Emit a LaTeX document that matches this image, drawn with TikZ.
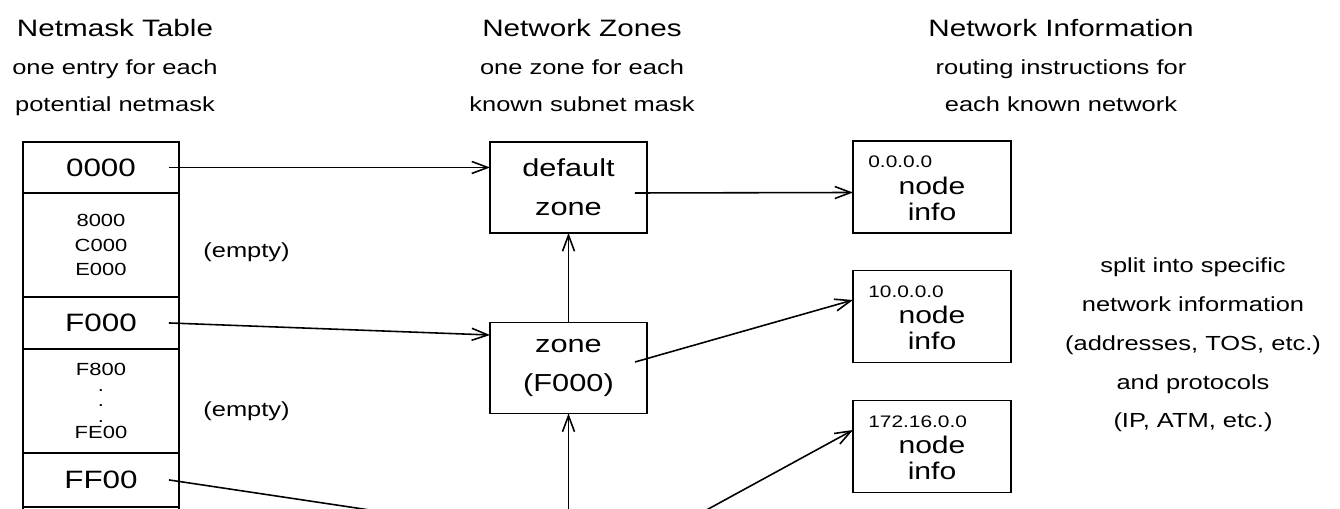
\documentclass[tikz,border=0pt]{standalone}
\usepackage{fontspec}
\setmainfont[FakeStretch=1.25]{Liberation Sans}
\usetikzlibrary{positioning,arrows.meta}

\begin{document}
\begin{tikzpicture}[x=0.02cm, y=-0.02cm,
    node distance=0pt,
    framed/.style={draw, line width=1.1pt, inner sep=0pt, outer sep=0pt},
    tblcell/.style={framed, minimum width=3.12cm, align=center},
    entry/.style={font=\fontsize{14.3}{17}\selectfont},
    entrysmall/.style={font=\fontsize{10}{14.2}\selectfont},
    zonebox/.style={framed, minimum width=3.14cm, minimum height=1.82cm, align=center, font=\fontsize{14}{22}\selectfont},
    infobox/.style={framed, minimum width=3.16cm, minimum height=1.84cm},
    iptext/.style={font=\fontsize{9.5}{11}\selectfont, inner sep=0pt},
    infotext/.style={align=center, inner sep=0pt, font=\fontsize{13.7}{14.8}\selectfont},
    hdr/.style={anchor=base, inner sep=0pt, font=\fontsize{13.5}{16}\selectfont},
    subhdr/.style={anchor=base, inner sep=0pt, font=\fontsize{11.6}{14}\selectfont},
    link/.style={-{Straight Barb[length=3.2mm,width=2.4mm]}, line width=0.9pt}]

    \useasboundingbox (0,0) rectangle (1340,509);
    \clip (0,0) rectangle (1340,509);

    % Column headings
    \node[hdr] (hTable) at (115,37) {Netmask Table};
    \node[subhdr] (hTable1) at (115,75) {one entry for each};
    \node[subhdr] (hTable2) at (115,112) {potential netmask};
    \node[hdr] (hZones) at (582,37) {Network Zones};
    \node[subhdr] (hZones1) at (582,75) {one zone for each};
    \node[subhdr] (hZones2) at (582,112) {known subnet mask};
    \node[hdr] (hInfo) at (1061,37) {Network Information};
    \node[subhdr] (hInfo1) at (1061,75) {routing instructions for};
    \node[subhdr] (hInfo2) at (1061,112) {each known network};

    % Netmask table
    \node[tblcell, entry, minimum height=1.02cm, anchor=north west] (t0000) at (23,142) {0000};
    \node[tblcell, entrysmall, minimum height=2.08cm, below=of t0000] (tMid1) {8000\\C000\\E000};
    \node[tblcell, entry, minimum height=1.04cm, below=of tMid1] (tF000) {F000};
    \node[tblcell, entrysmall, font=\fontsize{10}{9.1}\selectfont, minimum height=2.08cm, below=of tF000] (tMid2) {F800\\.\\.\\.\\FE00};
    \node[tblcell, entry, minimum height=1.08cm, below=of tMid2] (tFF00) {FF00};
    \node[tblcell, minimum height=2.08cm, below=of tFF00] (tNext) {};

    \node[subhdr, anchor=west] (empty1) at (203,252) {(empty)};
    \node[subhdr, anchor=west] (empty2) at (203,411) {(empty)};

    % Zones
    \node[zonebox] (zdefault) at (568.5,187.5) {default\\zone};
    \node[zonebox] (zF000) at (568.5,368) {zone\\(F000)};
    \coordinate (zNextIn) at (490,528);
    \coordinate (zNextUp) at (568.5,530);
    \coordinate (zNextOut) at (635,549);

    % Network information boxes
    \foreach \n/\y/\ip in {0/187/0.0.0.0, 10/316.5/10.0.0.0, 172/446.5/172.16.0.0} {
        \node[infobox] (info\n) at (932,\y) {};
        \node[iptext, anchor=west] (ip\n) at ([xshift=0.3cm,yshift=0.5cm]info\n.west) {\ip};
        \node[infotext] (it\n) at ([yshift=-0.23cm]info\n.center) {node\\info};
    }

    \node[subhdr, anchor=center, align=center, font=\fontsize{11.6}{22.1}\selectfont] (split) at (1193,345)
        {split into specific\\network information\\(addresses, TOS, etc.)\\and protocols\\(IP, ATM, etc.)};

    % Arrows
    \draw[link] ([xshift=-0.2cm]t0000.east) -- (zdefault.west |- t0000.east);
    \draw[link] ([xshift=-0.2cm]tF000.east) -- ([yshift=0.66cm]zF000.west);
    \draw[link] ([xshift=-0.2cm]tFF00.east) -- (zNextIn);
    \draw[link] (zF000.north) -- (zdefault.south);
    \draw[link] (zNextUp) -- (zF000.south);
    \draw[link] ([xshift=-0.24cm,yshift=-0.11cm]zdefault.east) -- ([yshift=-0.11cm]info0.west);
    \draw[link] ([xshift=-0.24cm,yshift=0.12cm]zF000.east) -- ([yshift=0.33cm]info10.west);
    \draw[link] (zNextOut) -- ([yshift=0.33cm]info172.west);
\end{tikzpicture}
\end{document}
